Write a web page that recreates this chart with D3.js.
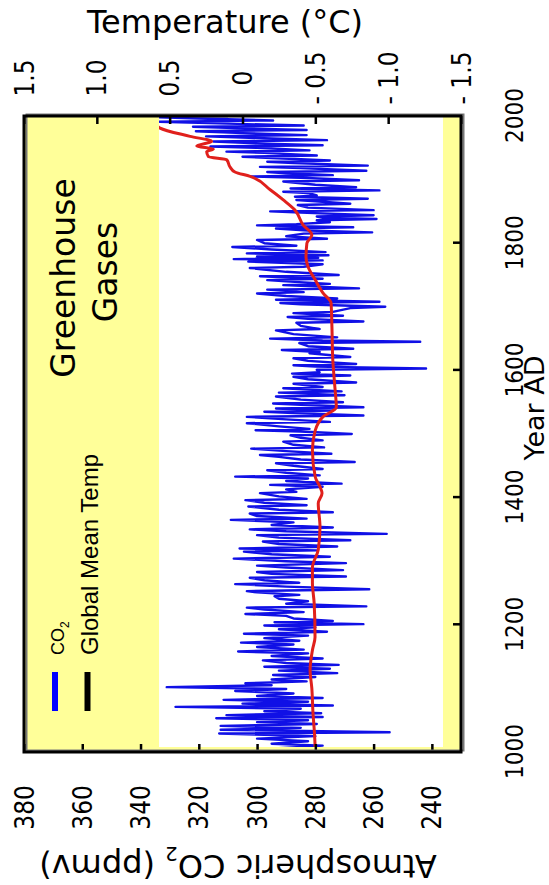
<!DOCTYPE html>
<html>
<head>
<meta charset="utf-8">
<script src="https://cdn.jsdelivr.net/npm/d3@7"></script>
<style>
  body { margin: 0; background: #fff; }
</style>
</head>
<body>
<script>
// tick values for the three axes
var yearTicks = [1000, 1200, 1400, 1600, 1800, 2000];
var co2Ticks = [380, 360, 340, 320, 300, 280, 260, 240];
var tempTicks = [1.5, 1.0, 0.5, 0, -0.5, -1.0, -1.5];

// atmospheric CO2 (ppmv), red curve
var co2 = [
  [1000, 280.0], [1030, 280.3], [1061, 280.8], [1100, 281.2], [1129, 281.8], [1160, 281.0],
  [1181, 280.1], [1234, 280.4], [1266, 281.0], [1290, 281.0], [1318, 279.0], [1354, 278.4],
  [1391, 279.0], [1407, 277.7], [1417, 278.4], [1432, 280.0], [1475, 281.0], [1506, 280.0],
  [1527, 277.4], [1542, 272.8], [1574, 273.3], [1616, 274.0], [1668, 274.3], [1706, 274.6],
  [1722, 277.4], [1742, 280.0], [1763, 282.5], [1778, 283.2], [1800, 282.9], [1813, 281.2],
  [1828, 284.1], [1852, 287.0], [1868, 291.0], [1884, 295.5], [1905, 302.4], [1912, 307.6],
  [1920, 309.3], [1931, 310.4], [1936, 316.7], [1944, 317.3], [1948, 315.0], [1953, 320.7],
  [1960, 315.6], [1968, 323.0], [1981, 333.3], [1986, 334.5]
];

// global mean temperature (deg C), blue curve
var globalTemp = [
  [1000,-0.30],[1003,-0.58],[1006,-0.25],[1010,-0.55],[1013,-0.20],[1017,-0.45],[1021,-0.10],[1025,-0.50],
  [1029,0.16],[1031,-1.01],[1035,0.15],[1038,-0.40],[1041,0.15],[1044,-0.51],[1047,-0.10],[1050,-0.45],
  [1053,0.18],[1055,-0.55],[1058,0.11],[1061,-0.54],[1064,-0.15],[1068,-0.40],[1071,0.46],[1073,-0.62],
  [1076,0.00],[1079,-0.45],[1082,0.13],[1085,-0.55],[1088,-0.10],[1092,-0.35],[1096,0.05],[1099,-0.30],
  [1102,0.52],[1105,-0.20],[1108,-0.02],[1111,-0.44],[1114,-0.20],[1118,-0.50],[1121,-0.21],[1124,-0.65],
  [1128,-0.25],[1131,-0.60],[1134,-0.15],[1137,-0.66],[1140,-0.30],[1144,-0.14],[1147,-0.55],[1151,-0.20],
  [1155,-0.45],[1158,0.03],[1161,-0.42],[1165,-0.10],[1169,-0.35],[1172,0.01],[1175,-0.39],[1179,-0.15],
  [1183,-0.45],[1186,-0.01],[1189,-0.58],[1193,-0.25],[1196,-0.50],[1199,-0.15],[1201,-0.83],[1204,-0.22],
  [1206,-0.62],[1210,-0.35],[1214,-0.30],[1217,-0.02],[1220,-0.42],[1224,-0.15],[1227,-0.03],[1229,-0.85],
  [1233,-0.30],[1237,-0.45],[1241,-0.25],[1245,-0.22],[1247,-0.39],[1251,-0.10],[1253,-0.03],[1256,-0.87],
  [1260,-0.30],[1264,0.05],[1266,-0.39],[1270,-0.15],[1274,-0.05],[1276,-0.71],[1280,-0.20],[1283,-0.10],
  [1286,-0.69],[1290,-0.30],[1293,-0.10],[1297,-0.71],[1300,-0.30],[1304,0.06],[1307,-0.60],[1311,-0.20],
  [1315,-0.01],[1317,-0.51],[1320,0.02],[1323,-0.65],[1327,-0.25],[1331,-0.14],[1333,-0.74],[1337,-0.25],
  [1341,-0.10],[1343,-0.99],[1347,-0.30],[1350,-0.05],[1353,-0.62],[1357,-0.20],[1361,-0.35],[1365,0.08],
  [1367,-0.44],[1371,-0.10],[1375,-0.05],[1377,-0.62],[1381,-0.25],[1386,-0.04],[1388,-0.44],[1392,-0.15],
  [1396,-0.02],[1398,-0.44],[1402,-0.25],[1407,-0.12],[1409,-0.37],[1413,-0.30],[1417,-0.55],[1420,-0.19],
  [1422,-0.68],[1426,-0.30],[1430,-0.45],[1433,0.05],[1435,-0.53],[1439,-0.30],[1443,-0.17],[1445,-0.55],
  [1450,-0.35],[1454,-0.23],[1456,-0.77],[1460,-0.40],[1464,-0.25],[1467,-0.12],[1469,-0.61],[1473,-0.30],
  [1477,-0.06],[1479,-0.56],[1483,-0.35],[1488,-0.28],[1490,-0.55],[1494,-0.40],[1498,-0.33],[1500,-0.75],
  [1504,-0.40],[1506,-0.09],[1508,-0.46],[1512,-0.25],[1517,-0.03],[1519,-0.60],[1523,-0.30],[1527,-0.03],
  [1529,-0.83],[1533,-0.35],[1535,-0.15],[1537,-0.62],[1540,-0.23],[1542,-0.83],[1546,-0.40],[1548,-0.21],
  [1550,-0.69],[1554,-0.40],[1559,-0.23],[1561,-0.70],[1565,-0.25],[1567,-0.68],[1572,-0.28],[1574,-0.55],
  [1579,-0.35],[1581,-0.78],[1586,-0.45],[1590,-0.35],[1592,-0.74],[1595,-0.34],[1597,-0.53],[1601,-0.51],
  [1603,-1.26],[1606,-0.50],[1608,-0.35],[1610,-0.78],[1615,-0.45],[1619,-0.35],[1621,-0.74],[1627,-0.46],
  [1629,-0.53],[1632,-0.27],[1634,-0.76],[1638,-0.45],[1643,-0.39],[1645,-1.22],[1647,-0.55],[1650,-0.19],
  [1652,-0.65],[1657,-0.35],[1663,-0.23],[1665,-0.53],[1670,-0.40],[1675,-0.37],[1677,-0.83],[1681,-0.45],
  [1684,-0.31],[1686,-0.69],[1690,-0.35],[1692,-0.62],[1696,-0.70],[1698,-0.74],[1700,-0.98],[1704,-0.40],
  [1706,-0.26],[1708,-0.94],[1711,-0.23],[1713,-0.65],[1717,-0.30],[1721,-0.10],[1723,-0.42],[1727,-0.17],
  [1729,-0.80],[1734,-0.28],[1736,-0.60],[1740,-0.30],[1742,-0.17],[1744,-0.55],[1748,-0.12],[1750,-0.66],
  [1755,-0.30],[1761,-0.05],[1763,-0.42],[1767,-0.55],[1771,-0.04],[1773,-0.55],[1775,0.06],[1777,-0.52],
  [1779,-0.10],[1781,-0.59],[1784,-0.03],[1786,-0.57],[1790,-0.20],[1794,0.07],[1796,-0.37],[1800,-0.15],
  [1805,-0.10],[1807,-0.58],[1811,-0.30],[1815,-0.42],[1817,-0.89],[1820,-0.45],[1823,-0.23],[1825,-0.76],
  [1828,-0.10],[1830,-0.37],[1833,-0.60],[1836,-0.51],[1838,-0.92],[1840,-0.55],[1842,-0.51],[1844,-0.90],
  [1848,-0.40],[1850,-0.19],[1852,-0.90],[1856,-0.45],[1860,-0.38],[1862,-0.74],[1866,-0.50],[1868,-0.37],
  [1870,-0.86],[1873,-0.36],[1875,-0.51],[1879,-0.45],[1881,-0.28],[1883,-0.94],[1886,-0.33],[1888,-0.78],
  [1892,-0.50],[1897,-0.28],[1899,-0.80],[1903,-0.40],[1905,-0.06],[1907,-0.62],[1910,-0.30],[1912,-0.17],
  [1914,-0.85],[1918,-0.40],[1920,-0.12],[1922,-0.86],[1926,-0.35],[1928,-0.17],[1930,-0.60],[1934,-0.20],
  [1936,0.00],[1938,-0.51],[1942,-0.15],[1944,0.11],[1946,-0.46],[1950,-0.10],[1952,0.22],[1954,-0.55],
  [1957,-0.10],[1960,0.20],[1962,-0.58],[1965,-0.15],[1968,0.25],[1970,-0.44],[1973,0.00],[1976,0.32],
  [1978,-0.44],[1981,0.05],[1983,0.34],[1985,-0.42],[1988,0.10],[1991,0.57],[1993,-0.21],[1996,0.30],
  [1998,0.59],[2000,0.10]
];

function init() {
    var w = 636;   // length of the year axis
    var h = 437;   // length of the value axes

    var tickFont = "'DejaVu Sans Condensed', 'DejaVu Sans', sans-serif";
    var titleFont = "'Comic Sans MS', 'DejaVu Sans', sans-serif";
    var legendFont = "'Liberation Sans', Arial, sans-serif";

    var svg = d3.select("body")
        .append("svg")
        .attr("width", 549)
        .attr("height", 885);

    // the whole chart is turned a quarter turn anticlockwise
    var g = svg.append("g")
        .attr("transform", "translate(24,752) rotate(-90)");

    var x = d3.scaleLinear().domain([1000, 2000]).range([0, w]);
    var yCo2 = d3.scaleLinear().domain([230, 380]).range([h, 0]);
    var yTemp = d3.scaleLinear().domain([-1.5, 1.5]).range([h, 0]);

    // yellow background and white plotting area
    g.append("rect")
        .attr("width", w).attr("height", h)
        .attr("fill", "#ffff99");
    g.append("rect")
        .attr("x", 5).attr("y", 135)
        .attr("width", w - 5).attr("height", 284)
        .attr("fill", "#fff");

    g.append("clipPath").attr("id", "plotClip")
        .append("rect")
        .attr("x", 5).attr("y", 135)
        .attr("width", w - 5).attr("height", 284);

    var tempLine = d3.line()
        .x(function(d) { return x(d[0]); })
        .y(function(d) { return yTemp(d[1]); });

    var co2Line = d3.line()
        .x(function(d) { return x(d[0]); })
        .y(function(d) { return yCo2(d[1]); })
        .curve(d3.curveMonotoneX);

    var lines = g.append("g").attr("clip-path", "url(#plotClip)");

    lines.append("path")
        .datum(globalTemp)
        .attr("fill", "none")
        .attr("stroke", "#1010e6")
        .attr("stroke-width", 2.4)
        .attr("stroke-linejoin", "round")
        .attr("d", tempLine);

    lines.append("path")
        .datum(co2)
        .attr("fill", "none")
        .attr("stroke", "#e0201c")
        .attr("stroke-width", 3)
        .attr("d", co2Line);

    // axes, ticks pointing into the frame
    var yearAxis = g.append("g")
        .attr("transform", "translate(0," + h + ")")
        .call(d3.axisBottom(x).tickValues(yearTicks).tickSizeInner(-8).tickSizeOuter(0)
            .tickFormat(d3.format("d")));

    var co2Axis = g.append("g")
        .call(d3.axisLeft(yCo2).tickValues(co2Ticks).tickSizeInner(-8).tickSizeOuter(0));

    var tempAxis = g.append("g")
        .attr("transform", "translate(" + w + ",0)")
        .call(d3.axisRight(yTemp).tickValues(tempTicks).tickSizeInner(-8).tickSizeOuter(0)
            .tickFormat(function(d) {
                if (d === 0) return "0";
                return d > 0 ? d.toFixed(1) : "- " + (-d).toFixed(1);
            }));

    g.selectAll(".domain").remove();
    g.selectAll(".tick line").attr("stroke", "#000").attr("stroke-width", 2.5);
    g.selectAll(".tick text")
        .attr("fill", "#000")
        .style("font-family", tickFont)
        .style("font-stretch", "condensed")
        .style("font-size", "26px");

    yearAxis.selectAll("text")
        .attr("y", 62).attr("dy", 0)
        .style("font-size", "24px");
    co2Axis.selectAll("text")
        .attr("x", -33).attr("dy", "0.35em");
    tempAxis.selectAll("text")
        .attr("x", 38).attr("dy", "0.35em")
        .attr("text-anchor", "middle");

    // frame with a grey shadow
    g.append("rect")
        .attr("x", 1.5).attr("y", 2.5)
        .attr("width", w).attr("height", h)
        .attr("fill", "none").attr("stroke", "#777").attr("stroke-width", 2);
    g.append("rect")
        .attr("x", 0).attr("y", 0)
        .attr("width", w).attr("height", h)
        .attr("fill", "none").attr("stroke", "#000").attr("stroke-width", 3);

    // legend
    g.append("line")
        .attr("x1", 41).attr("x2", 80).attr("y1", 31).attr("y2", 31)
        .attr("stroke", "#0000ff").attr("stroke-width", 6);
    g.append("line")
        .attr("x1", 41).attr("x2", 80).attr("y1", 63.5).attr("y2", 63.5)
        .attr("stroke", "#000").attr("stroke-width", 6);

    var co2Label = g.append("text")
        .attr("x", 97).attr("y", 40)
        .style("font-family", legendFont)
        .style("font-size", "18px")
        .text("CO");
    co2Label.append("tspan")
        .attr("dy", 5)
        .style("font-size", "12px")
        .text("2");

    g.append("text")
        .attr("x", 97).attr("y", 74)
        .style("font-family", legendFont)
        .style("font-size", "24px")
        .text("Global Mean Temp");

    g.append("text")
        .attr("x", 474).attr("y", 51)
        .attr("text-anchor", "middle")
        .style("font-family", titleFont)
        .style("font-size", "33px")
        .text("Greenhouse");
    g.append("text")
        .attr("x", 480).attr("y", 93)
        .attr("text-anchor", "middle")
        .style("font-family", titleFont)
        .style("font-size", "33px")
        .text("Gases");

    // axis titles, placed in page coordinates
    svg.append("text")
        .attr("x", 225).attr("y", 33)
        .attr("text-anchor", "middle")
        .style("font-family", titleFont)
        .style("font-size", "32px")
        .text("Temperature (°C)");

    var co2Title = svg.append("text")
        .attr("transform", "translate(238,855) rotate(180)")
        .attr("text-anchor", "middle")
        .style("font-family", titleFont)
        .style("font-size", "32px")
        .text("Atmospheric CO");
    co2Title.append("tspan")
        .attr("dy", 8)
        .style("font-size", "20px")
        .text("2");
    co2Title.append("tspan")
        .attr("dy", -8)
        .text(" (ppmv)");

    svg.append("text")
        .attr("transform", "translate(544,408) rotate(-90)")
        .attr("text-anchor", "middle")
        .style("font-family", titleFont)
        .style("font-size", "27px")
        .text("Year AD");
}

window.onload = init;
</script>
</body>
</html>
